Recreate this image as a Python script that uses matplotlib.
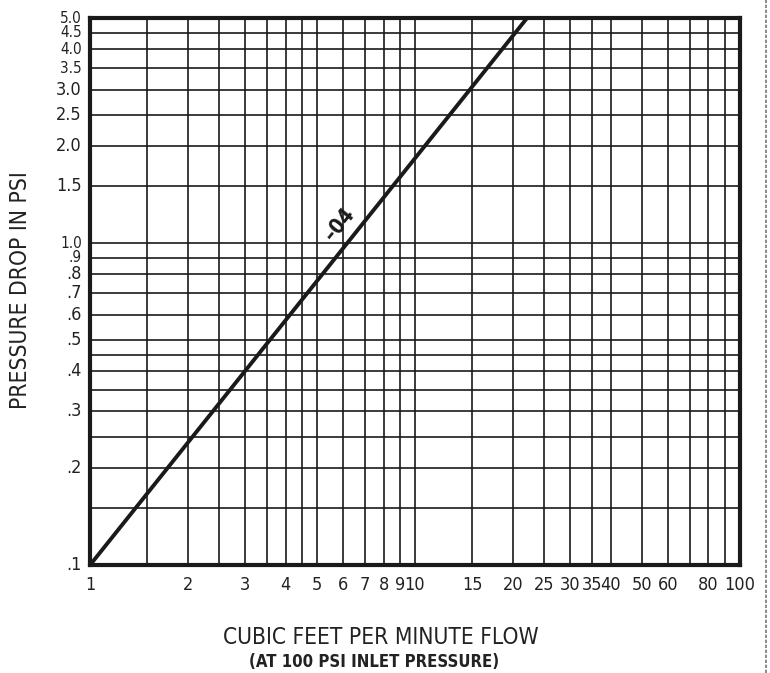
import matplotlib.pyplot as plt
from matplotlib.lines import Line2D
from matplotlib.ticker import FixedLocator, NullLocator

plt.rcParams['font.family'] = ['DejaVu Sans']
plt.rcParams['font.stretch'] = 'condensed'

# flow line (cfm vs psi drop)
flow = [1, 22.1]
drop = [0.1, 5.0]

x_grid = [1, 1.5, 2, 2.5, 3, 3.5, 4, 4.5, 5, 6, 7, 8, 9, 10,
          15, 20, 25, 30, 35, 40, 50, 60, 70, 80, 90, 100]
x_ticks = [1, 2, 3, 4, 5, 6, 7, 8, 9, 10, 15, 20, 25, 30, 35, 40, 50, 60, 80, 100]
x_labels = [str(v) for v in x_ticks]

y_grid = [0.1, 0.15, 0.2, 0.25, 0.3, 0.35, 0.4, 0.45, 0.5, 0.6, 0.7, 0.8, 0.9,
          1.0, 1.5, 2.0, 2.5, 3.0, 3.5, 4.0, 4.5, 5.0]
y_ticks = [0.1, 0.2, 0.3, 0.4, 0.5, 0.6, 0.7, 0.8, 0.9,
           1.0, 1.5, 2.0, 2.5, 3.0, 3.5, 4.0, 4.5, 5.0]
y_labels = ['.1', '.2', '.3', '.4', '.5', '.6', '.7', '.8', '.9',
            '1.0', '1.5', '2.0', '2.5', '3.0', '3.5', '4.0', '4.5', '5.0']

fig = plt.figure(figsize=(7.7, 6.73), dpi=100)
ax = fig.add_axes([0.117, 0.1605, 0.844, 0.8125])
ax.set_xscale('log')
ax.set_yscale('log')
ax.set_xlim(1, 100)
ax.set_ylim(0.1, 5.0)

for v in x_grid:
    ax.axvline(v, color='#1a1a1a', lw=1.2, zorder=1)
for v in y_grid:
    ax.axhline(v, color='#1a1a1a', lw=1.2, zorder=1)

ax.plot(flow, drop, color='#1a1a1a', lw=2.8, zorder=3, solid_capstyle='butt')
ax.text(5.85, 1.14, '\u201304', rotation=51, fontsize=15, fontweight='bold',
        ha='center', va='center', color='#1a1a1a', zorder=4)

ax.xaxis.set_major_locator(FixedLocator(x_ticks))
ax.xaxis.set_minor_locator(NullLocator())
ax.set_xticklabels(x_labels)
ax.yaxis.set_major_locator(FixedLocator(y_ticks))
ax.yaxis.set_minor_locator(NullLocator())
ax.set_yticklabels(y_labels, va='center')
ax.tick_params(length=0, labelsize=13, colors='#222222')
ax.tick_params(axis='x', pad=8)
ax.tick_params(axis='y', pad=6)
ylbls = ax.get_yticklabels()
for lbl in ylbls[-4:] + ylbls[8:10]:
    lbl.set_fontsize(11)

for s in ax.spines.values():
    s.set_linewidth(3)
    s.set_color('#1a1a1a')
    s.set_zorder(5)

fig.text(0.026, 0.569, 'PRESSURE DROP IN PSI', rotation=90, fontsize=16.3,
         ha='center', va='center', color='#222222')
fig.text(0.494, 0.053, 'CUBIC FEET PER MINUTE FLOW', fontsize=16.3,
         ha='center', va='center', color='#222222')
fig.text(0.486, 0.016, '(AT 100 PSI INLET PRESSURE)', fontsize=12,
         fontweight='bold', ha='center', va='center', color='#222222')

fig.add_artist(Line2D([0.995, 0.995], [0, 1], transform=fig.transFigure,
                      color='#777777', lw=1.2, ls=(0, (2, 1))))

fig.savefig('out.png', dpi=100)
